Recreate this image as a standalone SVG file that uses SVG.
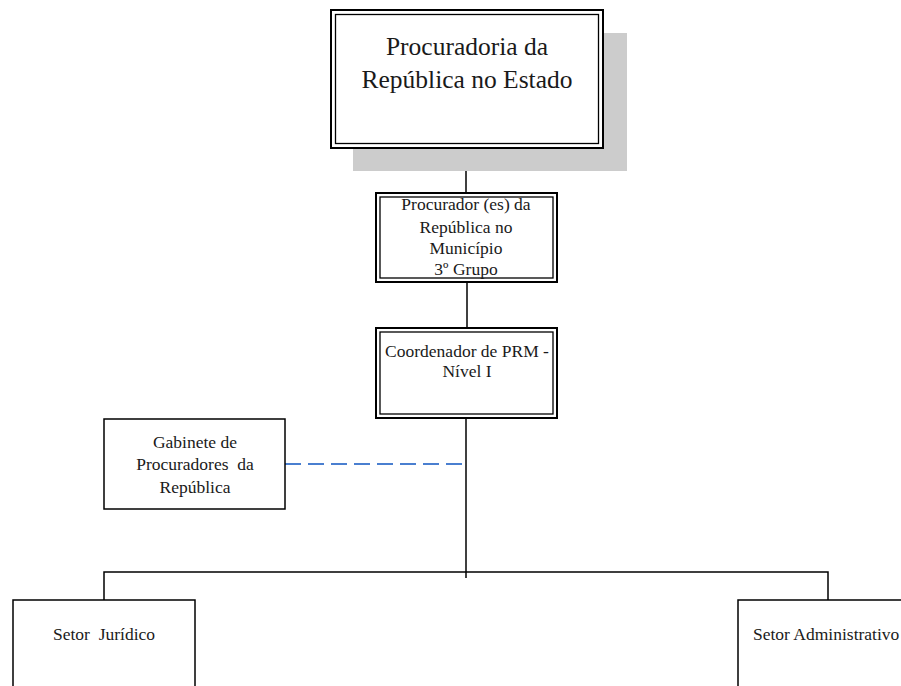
<svg xmlns="http://www.w3.org/2000/svg" width="901" height="686" viewBox="0 0 901 686">
<style>
.outer{fill:#fff;stroke:#000;stroke-width:2}
.inner{fill:none;stroke:#000;stroke-width:1.3}
.box{fill:#fff;stroke:#000;stroke-width:1.5}
.line{fill:none;stroke:#000;stroke-width:1.5}
.dash{fill:none;stroke:#4a7fd0;stroke-width:1.8;stroke-dasharray:16 7}
text{font-family:"Liberation Serif","Times New Roman",serif;fill:#1a1a1a;text-anchor:middle}
.big{font-size:25.5px}
.mid{font-size:17.5px}
.sm{font-size:17.5px}
</style>
<rect x="0" y="0" width="901" height="686" fill="#fff"/>
<g id="connectors">
<line class="line" x1="466" y1="148" x2="466" y2="193"/>
<line class="line" x1="467" y1="282" x2="467" y2="328"/>
<line class="line" x1="466" y1="418" x2="466" y2="578"/>
<polyline class="line" points="104,600 104,572 828,572 828,600"/>
<line class="dash" x1="285" y1="464" x2="462" y2="464"/>
</g>
<g id="node-prest">
<rect x="353" y="33" width="274" height="138" fill="#cccccc"/>
<rect class="outer" x="331" y="10" width="272" height="138"/>
<rect class="inner" x="335.5" y="14.5" width="263" height="129"/>
<text class="big" x="467" y="55">Procuradoria da</text>
<text class="big" x="467" y="88">República no Estado</text>
</g>
<g id="node-prm">
<rect class="outer" x="376" y="193" width="181" height="89"/>
<rect class="inner" x="380" y="197" width="173" height="81"/>
<text class="mid" x="466" y="210">Procurador (es) da</text>
<text class="mid" x="466" y="233">República no</text>
<text class="mid" x="466" y="254">Município</text>
<text class="mid" x="466" y="275">3º Grupo</text>
</g>
<g id="node-coord">
<rect class="outer" x="376" y="328" width="181" height="90"/>
<rect class="inner" x="380" y="332" width="173" height="82"/>
<text class="mid" x="467" y="357">Coordenador de PRM -</text>
<text class="mid" x="467" y="377">Nível I</text>
</g>
<g id="node-gabinete">
<rect class="box" x="104" y="419" width="181" height="90"/>
<text class="mid" x="195" y="448">Gabinete de</text>
<text class="mid" x="195" y="470" xml:space="preserve">Procuradores  da</text>
<text class="mid" x="195" y="493">República</text>
</g>
<g id="node-juridico">
<rect class="box" x="13" y="600" width="182" height="100"/>
<text class="sm" x="104" y="640" xml:space="preserve">Setor  Jurídico</text>
</g>
<g id="node-admin">
<rect class="box" x="738" y="600" width="182" height="100"/>
<text class="sm" x="753" y="640" style="text-anchor:start">Setor Administrativo</text>
</g>
</svg>
